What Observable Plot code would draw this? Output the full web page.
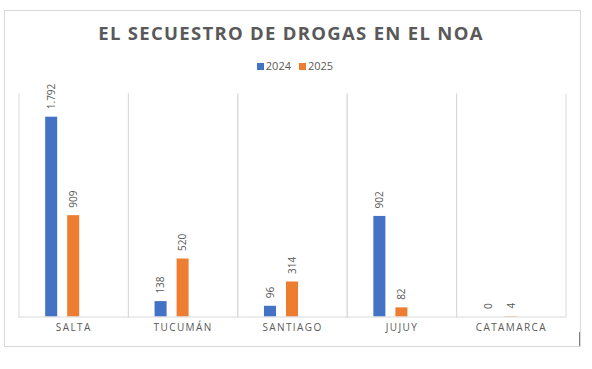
<!DOCTYPE html>
<html>
<head>
<meta charset="utf-8">
<script src="https://cdn.jsdelivr.net/npm/d3@7"></script>
<script src="https://cdn.jsdelivr.net/npm/@observablehq/plot@0.6"></script>
<style>
  html, body { margin: 0; padding: 0; background: #fff; }
  body { width: 592px; height: 369px; position: relative; overflow: hidden; font-family: "Open Sans", sans-serif; }
  #frame { position: absolute; left: 4px; top: 10px; width: 575px; height: 335px; border: 1px solid #d9d9d9; }
  #tick { position: absolute; left: 579px; top: 332px; width: 1px; height: 14px; background: #7f7f7f; }
  #title { position: absolute; left: -5px; top: 20px; width: 592px; text-align: center; font-size: 18.5px; font-weight: 700; letter-spacing: 1.3px; color: #595959; line-height: 26px; }
  #legend { position: absolute; left: -1px; top: 58px; width: 592px; text-align: center; font-size: 11px; color: #595959; line-height: 16px; }
  #legend span.sw { display: inline-block; width: 7px; height: 7px; margin-right: 2px; vertical-align: 0px; }
  #legend span.item { margin: 0 4px; }
  #chart { position: absolute; left: 0; top: 78px; }
  #chart [aria-label="fx-axis tick label"] text { letter-spacing: 1.4px; }
</style>
</head>
<body>
<div id="frame"></div>
<div id="tick"></div>
<div id="title">EL SECUESTRO DE DROGAS EN EL NOA</div>
<div id="legend"></div>
<div id="chart"></div>
<script>
const regions = ["SALTA", "TUCUMÁN", "SANTIAGO", "JUJUY", "CATAMARCA"];
const years = ["2024", "2025"];
const values2024 = [1792, 138, 96, 902, 0];
const values2025 = [909, 520, 314, 82, 4];
const colors = ["#4472C4", "#ED7D31"];

const data = [];
regions.forEach((r, i) => {
  data.push({region: r, year: years[0], value: values2024[i]});
  data.push({region: r, year: years[1], value: values2025[i]});
});

const fmt = d3.formatLocale({decimal: ",", thousands: ".", grouping: [3], currency: ["$", ""]}).format(",d");

const legend = document.getElementById("legend");
legend.innerHTML = years.map((y, i) =>
  `<span class="item"><span class="sw" style="background:${colors[i]}"></span>${y}</span>`).join("");

const plot = Plot.plot({
  width: 592,
  height: 291,
  marginLeft: 18.5,
  marginRight: 26.5,
  marginTop: 15.5,
  marginBottom: 52.5,
  style: {fontFamily: "Open Sans, sans-serif", color: "#595959", background: "transparent"},
  fx: {domain: regions, padding: 0, round: false, label: null, tickSize: 0, tickPadding: 7, fontSize: 10},
  x: {domain: [...years, "_"], paddingInner: 10/22, paddingOuter: 1.21, round: false, axis: null},
  y: {domain: [0, 2000], axis: null},
  color: {domain: years, range: colors},
  marks: [
    Plot.frame({anchor: "left", stroke: "#d9d9d9"}),
    Plot.frame({anchor: "right", stroke: "#d9d9d9"}),
    Plot.barY(data, {fx: "region", x: "year", y: "value", fill: "year"}),
    Plot.ruleY([0], {stroke: "#d9d9d9"}),
    Plot.text(data, {fx: "region", x: "year", y: "value", text: d => fmt(d.value), rotate: -90, textAnchor: "start", dy: -8, fill: "#595959", fontSize: 10})
  ]
});
document.getElementById("chart").appendChild(plot);
</script>
</body>
</html>
